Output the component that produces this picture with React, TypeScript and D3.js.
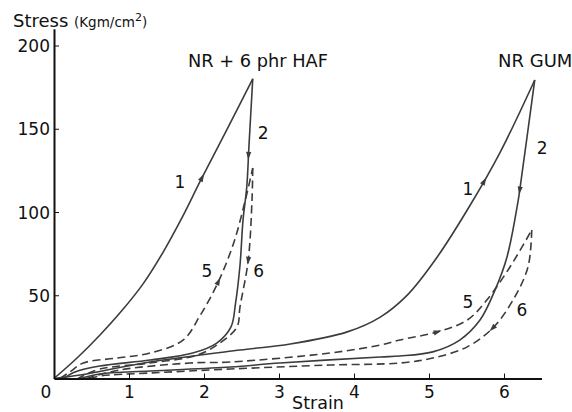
import React, { useEffect, useRef } from "react";
import * as d3 from "d3";

const W = 572;
const H = 412;

const strainTicks = [1, 2, 3, 4, 5, 6];
const stressTicks = [50, 100, 150, 200];

// NR + 6 phr HAF
const hafCycle1 = [[0, 0], [0.3, 12], [0.61, 26], [0.9, 40.5], [1.19, 57], [1.45, 75.5], [1.7, 96], [1.95, 118.5], [2.3, 149], [2.65, 180]];
const hafCycle2 = [[2.65, 180], [2.6, 140], [2.57, 115], [2.52, 95], [2.48, 68], [2.42, 45], [2.36, 31], [2.17, 21.3], [1.85, 15.3], [1.28, 11.1], [0.61, 7.5], [0.28, 3.9], [0.13, 0]];
const hafCycle5 = [[0.08, 0], [0.21, 3.9], [0.39, 9.3], [0.84, 12.3], [1.28, 15.3], [1.72, 23], [1.95, 38], [2.19, 58], [2.4, 82], [2.55, 107], [2.65, 126.4]];
const hafCycle6 = [[2.65, 126.4], [2.64, 107.2], [2.59, 71.1], [2.48, 43], [2.44, 31], [2.21, 21.3], [1.91, 14.1], [1.28, 9.3], [0.61, 5.7], [0.41, 2.1], [0.32, 0]];

// NR GUM
const gumCycle1 = [[0, 0], [0.35, 2.1], [1.28, 9.9], [2.48, 17.1], [3.15, 20.7], [3.91, 28], [4.35, 36.9], [4.71, 50.1], [5.11, 73], [5.55, 104.2], [5.95, 136], [6.41, 179.3]];
const gumCycle2 = [[6.41, 179.3], [6.21, 113.2], [6.19, 107.2], [6.04, 73], [5.88, 53.1], [5.68, 35.1], [5.41, 23.1], [5.05, 16], [4.61, 13.5], [4.35, 12.9], [3.01, 9.3], [2.35, 6.9], [1.28, 4.5], [0.61, 2.7], [0.35, 0]];
const gumCycle5 = [[0.43, 0], [0.88, 5.1], [1.81, 9.3], [2.35, 9.9], [3.68, 15.3], [4.35, 20.1], [4.61, 23.1], [5.11, 28], [5.51, 35.1], [5.77, 47.1], [6.08, 67], [6.37, 89.2]];
const gumCycle6 = [[6.37, 89.2], [6.32, 67], [6.12, 47.1], [5.85, 30.3], [5.51, 19], [5.05, 12.3], [4.61, 9.3], [3.68, 8.1], [2.35, 5.7], [1.28, 3.3], [0.61, 1.5], [0.48, 0]];

// arrow heads (data coords on each curve)
const arrowPoints = [[1.95, 121], [2.59, 134], [2.19, 58], [2.59, 71], [5.77, 117.4], [6.21, 113], [5.11, 28], [5.85, 30.3]];

const cycleLabels = ["1", "2", "5", "6", "1", "2", "5", "6"];
const cycleLabelPos = [[1.68, 114.7], [2.79, 143.8], [2.04, 61], [2.73, 61], [5.52, 110.2], [6.51, 134.8], [5.52, 42.3], [6.24, 37.5]];

export default function App() {
  const ref = useRef<SVGSVGElement | null>(null);

  useEffect(() => {
    const svg = d3.select(ref.current);
    svg.selectAll("*").remove();

    const x = d3.scaleLinear().domain([0, 6.5]).range([54, 541.5]);
    const y = d3.scaleLinear().domain([0, 210]).range([378.5, 378.5 - 210 * 1.665]);
    const font = "'DejaVu Sans', sans-serif";
    const ink = "#111";
    const lineCol = "#3c3c3c";

    const curves = [
      { pts: hafCycle1, dashed: false },
      { pts: hafCycle2, dashed: false },
      { pts: hafCycle5, dashed: true },
      { pts: hafCycle6, dashed: true },
      { pts: gumCycle1, dashed: false },
      { pts: gumCycle2, dashed: false },
      { pts: gumCycle5, dashed: true },
      { pts: gumCycle6, dashed: true },
    ];

    const line = d3
      .line<number[]>()
      .x((d) => x(d[0]))
      .y((d) => y(d[1]))
      .curve(d3.curveCatmullRom.alpha(0.5));

    const g = svg.append("g");
    curves.forEach((c, i) => {
      const p = g
        .append("path")
        .attr("d", line(c.pts) as string)
        .attr("fill", "none")
        .attr("stroke", lineCol)
        .attr("stroke-width", 1.6)
        .attr("stroke-dasharray", c.dashed ? "8,4.5" : null);
      const node = p.node() as SVGPathElement;
      const L = node.getTotalLength();
      const tx = x(arrowPoints[i][0]);
      const ty = y(arrowPoints[i][1]);
      let best = 0;
      let bd = Infinity;
      for (let s = 0; s <= 600; s++) {
        const l = (s / 600) * L;
        const pt = node.getPointAtLength(l);
        const dd = (pt.x - tx) ** 2 + (pt.y - ty) ** 2;
        if (dd < bd) {
          bd = dd;
          best = l;
        }
      }
      const a = node.getPointAtLength(Math.max(0, best - 2));
      const b = node.getPointAtLength(Math.min(L, best + 2));
      const dx = b.x - a.x;
      const dy = b.y - a.y;
      const n = Math.hypot(dx, dy) || 1;
      const ux = dx / n;
      const uy = dy / n;
      const c0 = node.getPointAtLength(best);
      const tip = [c0.x + ux * 4.5, c0.y + uy * 4.5];
      const bl = [c0.x - ux * 3.5 - uy * 2.6, c0.y - uy * 3.5 + ux * 2.6];
      const br = [c0.x - ux * 3.5 + uy * 2.6, c0.y - uy * 3.5 - ux * 2.6];
      g.append("path")
        .attr("d", `M${tip[0]},${tip[1]}L${bl[0]},${bl[1]}L${br[0]},${br[1]}Z`)
        .attr("fill", lineCol);
    });

    // axes
    const xAxis = d3.axisBottom(x).tickValues(strainTicks).tickSize(-5).tickSizeOuter(0).tickPadding(7).tickFormat(d3.format("d"));
    const gx = svg.append("g").attr("transform", `translate(0,${y(0)})`).call(xAxis);
    gx.select(".domain").attr("stroke", ink).attr("stroke-width", 2);
    gx.selectAll(".tick line").attr("stroke", ink).attr("stroke-width", 1);
    gx.selectAll(".tick text").attr("fill", ink).attr("font-size", 17).attr("font-family", font);

    const yAxis = d3.axisLeft(y).tickValues(stressTicks).tickSize(-5).tickSizeOuter(0).tickPadding(4).tickFormat(d3.format("d"));
    const gy = svg.append("g").attr("transform", `translate(${x(0)},0)`).call(yAxis);
    gy.select(".domain").attr("stroke", ink).attr("stroke-width", 2);
    gy.selectAll(".tick line").attr("stroke", ink).attr("stroke-width", 1);
    gy.selectAll(".tick text").attr("fill", ink).attr("font-size", 17).attr("font-family", font).attr("dy", "0.36em");

    // origin label
    svg.append("text").attr("x", x(0) - 8).attr("y", y(0) + 19.5).attr("text-anchor", "middle")
      .attr("font-size", 17).attr("font-family", font).attr("fill", ink).text("0");

    // axis titles
    svg.append("text").attr("x", 13).attr("y", 27).attr("font-size", 18).attr("font-family", font).attr("fill", ink).text("Stress");
    const unit = svg.append("text").attr("x", 74).attr("y", 27).attr("font-size", 13.5).attr("font-family", font).attr("fill", ink);
    unit.append("tspan").text("(Kgm/cm");
    unit.append("tspan").attr("font-size", 11).attr("dy", -6).text("2");
    unit.append("tspan").attr("dy", 6).text(")");

    svg.append("text").attr("x", 318).attr("y", 409).attr("text-anchor", "middle").attr("font-size", 17.5).attr("font-family", font).attr("fill", ink).text("Strain");

    // curve group titles
    svg.append("text").attr("x", 188).attr("y", 67).attr("font-size", 17).attr("font-family", font).attr("fill", ink)
      .attr("textLength", 140).attr("lengthAdjust", "spacingAndGlyphs").text("NR + 6 phr HAF");
    svg.append("text").attr("x", 498).attr("y", 67).attr("font-size", 18).attr("font-family", font).attr("fill", ink).text("NR GUM");

    // cycle labels
    cycleLabels.forEach((t, i) => {
      svg.append("text").attr("x", x(cycleLabelPos[i][0])).attr("y", y(cycleLabelPos[i][1]))
        .attr("text-anchor", "middle").attr("font-size", 17).attr("font-family", font).attr("fill", ink).text(t);
    });
  }, []);

  return (
    <svg
      ref={ref}
      width={W}
      height={H}
      style={{ position: "absolute", left: 0, top: 0, background: "#fff" }}
    />
  );
}
